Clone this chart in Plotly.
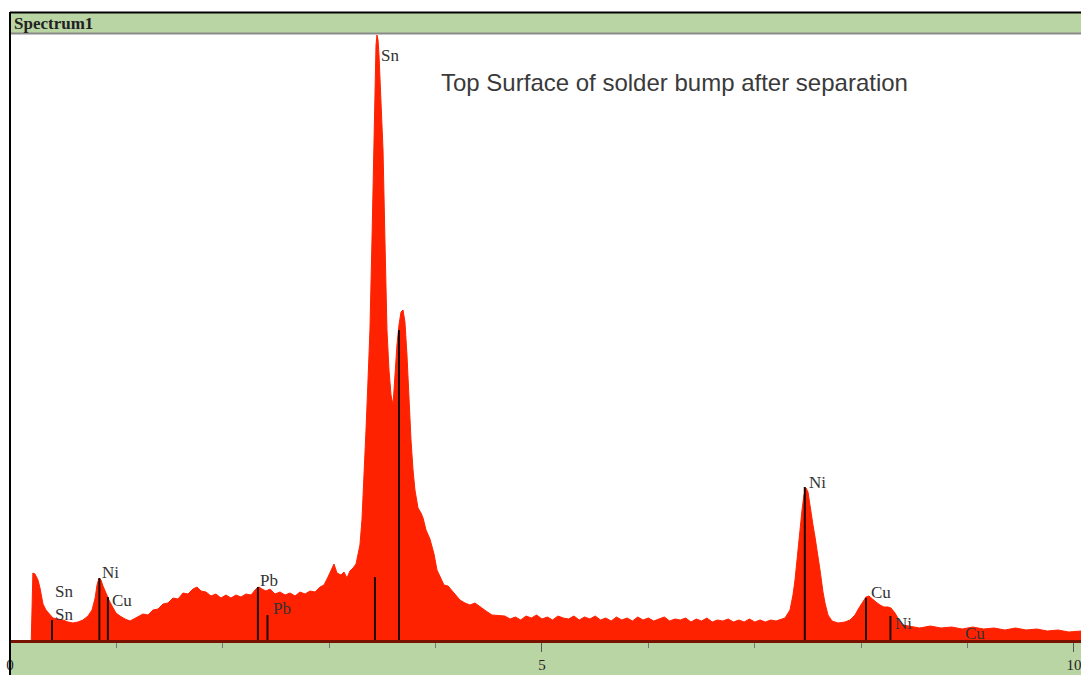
import plotly.graph_objects as go

# ---------------- data ----------------
energy_kev = [0.20, 0.215, 0.235, 0.263, 0.282, 0.31, 0.338, 0.376, 0.404, 0.451, 0.498, 0.545, 0.592,
              0.639, 0.686, 0.733, 0.771, 0.80, 0.818, 0.837, 0.855, 0.874, 0.902, 0.93, 0.959, 0.996,
              1.034, 1.081, 1.128, 1.165, 1.203, 1.25, 1.297, 1.344, 1.391, 1.438, 1.485, 1.532, 1.579,
              1.626, 1.673, 1.72, 1.758, 1.795, 1.842, 1.889, 1.936, 1.983, 2.03, 2.077, 2.124, 2.171,
              2.218, 2.265, 2.312, 2.34, 2.368, 2.406, 2.444, 2.491, 2.538, 2.585, 2.632, 2.679, 2.726,
              2.773, 2.82, 2.867, 2.914, 2.951, 2.989, 3.017, 3.045, 3.073, 3.111, 3.139, 3.167, 3.195,
              3.224, 3.252, 3.271, 3.289, 3.308, 3.327, 3.346, 3.365, 3.383, 3.402, 3.412, 3.421, 3.43,
              3.44, 3.449, 3.459, 3.468, 3.477, 3.487, 3.506, 3.524, 3.543, 3.562, 3.581, 3.60, 3.618,
              3.637, 3.656, 3.675, 3.694, 3.712, 3.731, 3.75, 3.769, 3.788, 3.806, 3.835, 3.863, 3.882,
              3.91, 3.947, 3.985, 4.013, 4.041, 4.079, 4.117, 4.154, 4.192, 4.229, 4.276, 4.323, 4.37,
              4.417, 4.474, 4.53, 4.605,
              4.65, 4.70, 4.75, 4.80, 4.85, 4.90, 4.95, 5.00, 5.05, 5.10, 5.15, 5.20, 5.25, 5.30, 5.35,
              5.40, 5.45, 5.50, 5.55, 5.60, 5.65, 5.70, 5.75, 5.80, 5.85, 5.90, 5.95, 6.00, 6.05, 6.10,
              6.15, 6.20, 6.25, 6.30, 6.35, 6.40, 6.45, 6.50, 6.55, 6.60, 6.65, 6.70, 6.75, 6.80, 6.85,
              6.90, 6.95, 7.00, 7.05, 7.10, 7.15, 7.20, 7.25,
              7.284, 7.331, 7.359, 7.378, 7.406, 7.425, 7.444, 7.462, 7.481, 7.50, 7.519, 7.547,
              7.566, 7.594, 7.613, 7.641, 7.66, 7.688, 7.726, 7.782, 7.848, 7.895, 7.942, 7.979, 8.017,
              8.045, 8.073, 8.102, 8.139, 8.177, 8.214, 8.252, 8.28, 8.318, 8.355, 8.393,
              8.459, 8.55, 8.65, 8.75, 8.85, 8.95, 9.05, 9.15, 9.25, 9.35, 9.45, 9.55, 9.65, 9.75,
              9.85, 9.95, 10.07]
counts = [0, 67, 66, 60, 52, 36, 30, 25, 22, 21, 20, 18, 17,
          18, 20, 24, 30, 42, 55, 62, 60, 54, 46, 40, 34, 27,
          24, 21, 19, 21, 23, 26, 25, 30, 31, 36, 37, 42, 41,
          47, 46, 51, 53, 49, 48, 44, 46, 42, 45, 42, 45, 43,
          46, 45, 51, 53, 51, 49, 51, 46, 48, 45, 47, 44, 48,
          46, 49, 48, 53, 55, 63, 70, 76, 67, 65, 68, 62, 69,
          72, 76, 85, 95, 120, 160, 210, 260, 310, 400, 460, 520, 565,
          595, 605, 600, 585, 560, 535, 490, 400, 310, 270, 245, 235, 265,
          295, 315, 328, 330, 318, 285, 240, 200, 170, 150, 132, 127, 122,
          110, 101, 86, 70, 63, 55, 54, 49, 45, 40, 37, 35, 37,
          33, 29, 25, 24,
          24, 21, 23, 20, 24, 22, 25, 21, 23, 20, 24, 22, 21, 24, 20,
          23, 21, 24, 20, 22, 19, 23, 20, 22, 19, 23, 20, 22, 19, 21,
          23, 19, 21, 20, 22, 18, 21, 19, 22, 18, 20, 19, 21, 18, 20,
          18, 21, 18, 20, 18, 20, 19, 21,
          22, 30, 45, 60, 93, 115, 130, 145, 152, 148, 133, 115,
          103, 85, 70, 48, 37, 25, 19, 17, 18, 20, 25, 32, 38,
          43, 44, 41, 38, 35, 33, 33, 32, 27, 20, 15,
          14, 12, 14, 12, 13, 11, 13, 11, 12, 10, 12, 10, 11, 9,
          10, 8, 9]

# element marker lines
line_energy = [0.395, 0.84, 0.92, 2.33, 2.42, 3.43, 3.656, 7.47, 8.045, 8.275]
line_height = [20, 62, 43, 53, 25, 63, 310, 153, 42, 24]

# element labels
label_text = ["Sn", "Sn", "Ni", "Cu", "Pb", "Pb", "Sn", "Ni", "Cu", "Ni", "Cu"]
label_energy = [0.405, 0.405, 0.85, 0.94, 2.335, 2.455, 3.465, 7.495, 8.07, 8.30, 8.955]
label_height = [49, 26, 68, 40, 60, 32, 585, 158, 48, 17, 7]

tick_values = [0, 5, 10]
tick_labels = ["0", "5", "10"]

panel_title = "Spectrum1"
note_text = "Top Surface of solder bump after separation"
note_energy = 6.25
note_height = 558

# ---------------- figure ----------------
RED = "#ff2200"
GREEN = "#bad5a4"

fig = go.Figure()
fig.add_trace(go.Scatter(
    x=energy_kev, y=counts, mode="lines", fill="tozeroy",
    fillcolor=RED, line=dict(color=RED, width=1), hoverinfo="skip"))

lx, ly = [], []
for e, h in zip(line_energy, line_height):
    lx += [e, e, None]
    ly += [0, h, None]
fig.add_trace(go.Scatter(x=lx, y=ly, mode="lines",
                         line=dict(color="#1e0600", width=2), hoverinfo="skip"))

for t, e, h in zip(label_text, label_energy, label_height):
    fig.add_annotation(x=e, y=h, text=t, showarrow=False, xanchor="left", yanchor="middle",
                       font=dict(family="Liberation Serif", size=17, color="#333333"))

fig.add_annotation(x=note_energy, y=note_height, text=note_text, showarrow=False,
                   xanchor="center", yanchor="middle",
                   font=dict(family="Liberation Sans", size=24, color="#3a3a3a"))

H_PLOT = 606
fig.update_layout(
    width=1081, height=675,
    margin=dict(l=10, r=0, t=34, b=35),
    paper_bgcolor="white", plot_bgcolor="white",
    showlegend=False,
    xaxis=dict(range=[0, 10.066], showgrid=False, zeroline=False,
               showline=True, linecolor="#7a1200", linewidth=3,
               tickmode="array", tickvals=tick_values, ticktext=tick_labels,
               ticks="outside", ticklen=9, tickwidth=1, tickcolor="#555555",
               ticklabeloverflow="allow",
               minor=dict(dtick=1, ticks="outside", ticklen=5, tickcolor="#777777", showgrid=False),
               tickfont=dict(family="Liberation Serif", size=15, color="#222222")),
    yaxis=dict(range=[0, H_PLOT], visible=False),
    shapes=[
        # bottom green strip
        dict(type="rect", xref="paper", yref="paper", x0=0, x1=1, y0=-35 / H_PLOT, y1=0,
             fillcolor=GREEN, line=dict(width=0), layer="below"),
        # title bar
        dict(type="rect", xref="paper", yref="paper", x0=0, x1=1, y0=1 + 1 / H_PLOT, y1=1 + 21 / H_PLOT,
             fillcolor=GREEN, line=dict(width=0), layer="above"),
        dict(type="line", xref="paper", yref="paper", x0=0, x1=1, y0=1 + 21.5 / H_PLOT, y1=1 + 21.5 / H_PLOT,
             line=dict(color="black", width=2), layer="above"),
        dict(type="line", xref="paper", yref="paper", x0=0, x1=1, y0=1 + 0.5 / H_PLOT, y1=1 + 0.5 / H_PLOT,
             line=dict(color="#8a8a8a", width=2), layer="above"),
        # left border
        dict(type="line", xref="paper", yref="paper", x0=0, x1=0, y0=-35 / H_PLOT, y1=1 + 22 / H_PLOT,
             line=dict(color="black", width=2), layer="above"),
    ],
)
fig.add_annotation(xref="paper", yref="paper", x=0, y=1 + 11 / H_PLOT, xshift=2,
                   text="<b>" + panel_title + "</b>", showarrow=False,
                   xanchor="left", yanchor="middle",
                   font=dict(family="Liberation Serif", size=17, color="#222222"))

fig.write_html("out.html", config={"displayModeBar": False},
               post_script="document.body.style.margin='0';document.body.style.overflow='hidden';")
